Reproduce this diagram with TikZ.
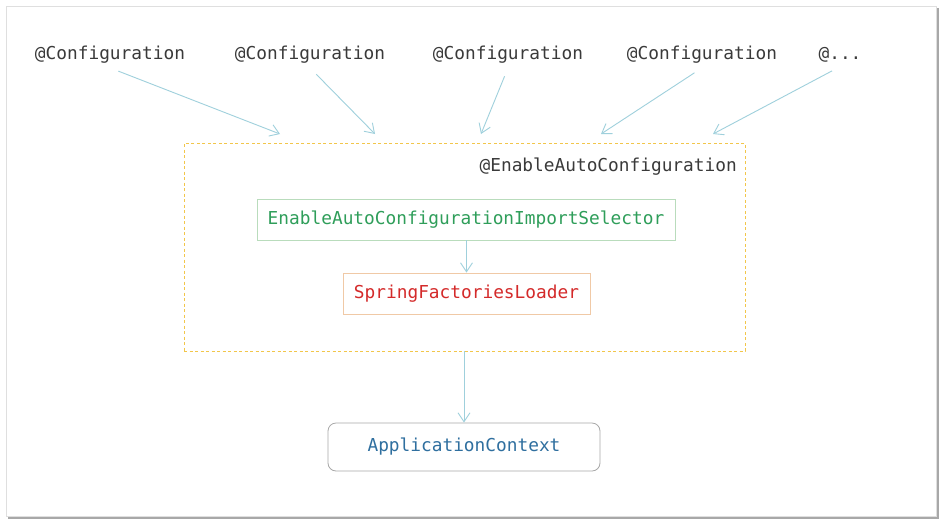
\documentclass[tikz,border=0pt]{standalone}
\usepackage{fontspec}
\setmonofont{DejaVu Sans Mono}
\usetikzlibrary{positioning,arrows.meta}
\definecolor{ink}{HTML}{3a3a3a}
\definecolor{link}{HTML}{9fd0dc}
\definecolor{dash}{HTML}{f2c64a}
\definecolor{grn}{HTML}{2f9e5a}
\definecolor{grnb}{HTML}{b9dcbc}
\definecolor{red}{HTML}{d42a2a}
\definecolor{redb}{HTML}{f0c9a6}
\definecolor{blu}{HTML}{2f6f9f}
\definecolor{frame}{HTML}{a8a8a8}
\newcommand\cfglab{@Configuration}
\newcommand\etclab{@...}
\tikzset{
  lab/.style={font=\ttfamily\fontsize{17.8}{21}\selectfont,text=ink,inner sep=4pt},
  blk/.style={lab,draw,line width=0.8pt,minimum height=41pt},
  arr/.style={-{Straight Barb[length=9pt,width=12pt]},line width=0.9pt,draw=link},
}
\begin{document}
\begin{tikzpicture}[x=1pt,y=-1pt]
\useasboundingbox (0,0) rectangle (943,523);
\fill[white] (0,0) rectangle (943,523);
% card with shadow
\fill[frame] (8,8) rectangle (939,519);
\draw[gray!25,fill=white,line width=0.8pt] (6,6) rectangle (936,516);
% top annotations
\foreach \i/\x/\t/\tx in {1/110/\cfglab/280,2/310/\cfglab/375,3/508/\cfglab/481,4/702/\cfglab/601,5/840/\etclab/713} {
  \node[lab] (c\i) at (\x,55) {\t};
  \coordinate (t\i) at (\tx,134);
  \draw[arr,shorten <=9pt] (c\i.south) -- (t\i);
}
\node[draw=dash,line width=0.8pt,dash pattern=on 3pt off 2.5pt,minimum width=561pt,minimum height=208pt] (enable) at (464.5,247) {};
\node[lab,anchor=east] (enablelab) at (741,167) {@EnableAutoConfiguration};
\node[blk,draw=grnb,text=grn,minimum width=418pt] (selector) at (466,219.5) {EnableAutoConfigurationImportSelector};
\node[blk,draw=redb,text=red,minimum width=247pt] (loader) at (466.5,293.5) {SpringFactoriesLoader};
\node[blk,draw=frame,text=blu,rounded corners=8pt,minimum width=272pt,minimum height=48pt] (ctx) at (464,447) {ApplicationContext};
\draw[arr] (selector.south -| loader) -- (loader.north);
\draw[arr] (enable.south -| ctx) -- (ctx.north);
\end{tikzpicture}
\end{document}
